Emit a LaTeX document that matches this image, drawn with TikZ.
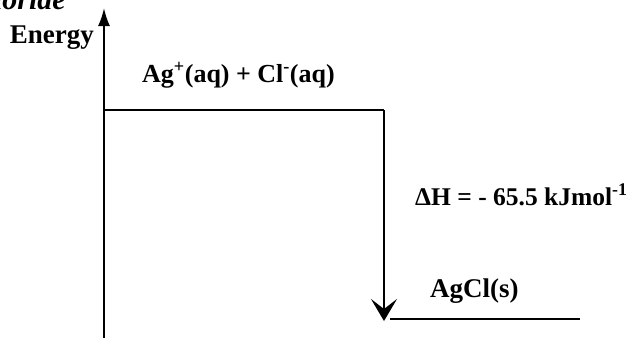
\documentclass[tikz,border=0pt]{standalone}
\usepackage{fontspec}
\setmainfont{Liberation Serif}
\usetikzlibrary{arrows.meta}
\begin{document}
\begin{tikzpicture}[x=1pt,y=-1pt,
  lbl/.style={font=\fontsize{27}{30}\selectfont\bfseries, inner sep=0pt},
  level/.style={line width=1.6pt},
  axisline/.style={line width=2pt, -{Latex[length=18pt,width=12pt]}},
  drop/.style={line width=2pt, -{Stealth[length=22pt,width=26pt,inset=10pt]}}]
\useasboundingbox (0,0) rectangle (633,338);
\clip (0,0) rectangle (633,338);
\fill[white] (0,0) rectangle (633,338);
% partial title at the top edge
\node[font=\fontsize{30}{32}\selectfont\bfseries\itshape, inner sep=0pt, anchor=base east] (title) at (66,9) {Chloride};
% energy axis
\coordinate (axb) at (104,338);
\coordinate (axt) at (104,8);
\draw[axisline] (axb) -- (axt);
\node[lbl, anchor=base east] (energy) at (94,43) {Energy};
% levels
\coordinate (l1a) at (104,110);
\coordinate (l1b) at (384,110);
\draw[level] (l1a) -- (l1b);
\coordinate (l2a) at (390,319);
\coordinate (l2b) at (580,319);
\draw[level] (l2a) -- (l2b);
\coordinate (arrend) at (384,321);
\draw[drop] (l1b) -- (arrend);
% labels
\node[lbl, font=\fontsize{26}{30}\selectfont\bfseries, anchor=base west] (react) at (142,82) {Ag\textsuperscript{+}(aq) + Cl\textsuperscript{-}(aq)};
\node[lbl, font=\fontsize{25.5}{30}\selectfont\bfseries, anchor=base west] (dh) at (415,205) {ΔH = - 65.5 kJmol\textsuperscript{-1}};
\node[lbl, anchor=base west] (prod) at (430,297) {AgCl(s)};
\end{tikzpicture}
\end{document}
